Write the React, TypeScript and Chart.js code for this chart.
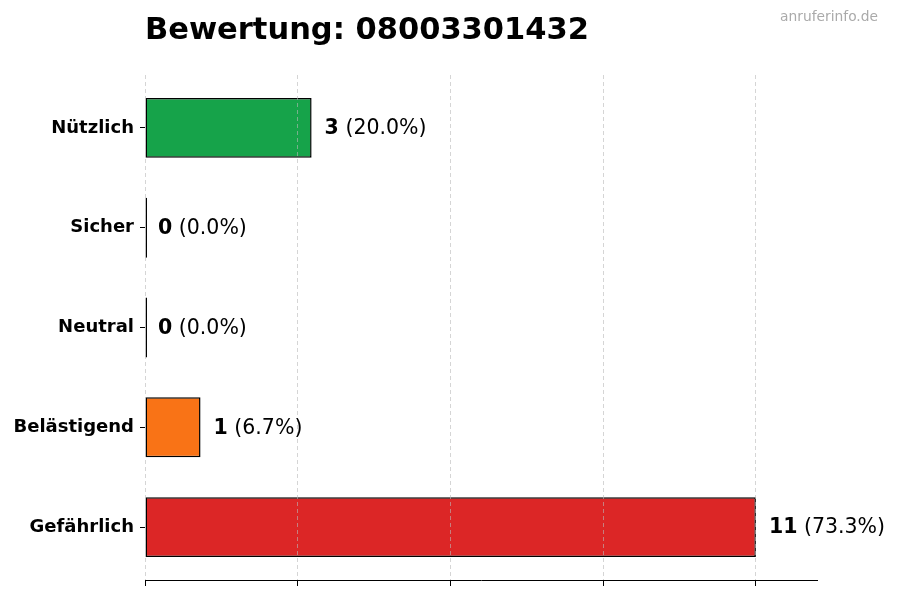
import React, { useEffect, useRef } from 'react';
import Chart from 'chart.js/auto';

const categories = ['Nützlich', 'Sicher', 'Neutral', 'Belästigend', 'Gefährlich'];
const counts = [3, 0, 0, 1, 11];
const percents = ['20.0', '0.0', '0.0', '6.7', '73.3'];
const barColors = ['#16a34a', '#3b82f6', '#9ca3af', '#f97316', '#dc2626'];
const xTicks = [0, 2.75, 5.5, 8.25, 11];
const xMax = 12.1;
// category positions padded like the original plot
const yMin = -0.53;
const yMax = 4.53;

const titleText = 'Bewertung: 08003301432';
const watermark = 'anruferinfo.de';
const FONT = '"DejaVu Sans", sans-serif';

// title, watermark and the "n (x%)" labels next to each bar
const labelsPlugin = {
  id: 'barLabels',
  afterDraw(chart: any) {
    const { ctx, chartArea } = chart;
    ctx.save();
    ctx.textBaseline = 'middle';
    ctx.fillStyle = '#000';
    ctx.textAlign = 'left';
    ctx.font = `bold 30.5px ${FONT}`;
    ctx.fillText(titleText, chartArea.left, 31);

    ctx.fillStyle = '#aaaaaa';
    ctx.textAlign = 'right';
    ctx.font = `13.8px ${FONT}`;
    ctx.fillText(watermark, 878, 17);

    ctx.textAlign = 'left';
    ctx.fillStyle = '#000';
    const meta = chart.getDatasetMeta(0);
    meta.data.forEach((bar: any, i: number) => {
      const x = (counts[i] === 0 ? chart.scales.x.getPixelForValue(0) : bar.x) + 13;
      ctx.font = `bold 20.5px ${FONT}`;
      const v = String(counts[i]);
      ctx.fillText(v, x, bar.y + 1);
      const w = ctx.measureText(v).width;
      ctx.font = `20.5px ${FONT}`;
      ctx.fillText(` (${percents[i]}%)`, x + w, bar.y + 1);
    });
    ctx.restore();
  },
};

export default function App() {
  const canvasRef = useRef<HTMLCanvasElement | null>(null);

  useEffect(() => {
    document.body.style.margin = '0';
    const ctx = canvasRef.current?.getContext('2d');
    if (!ctx) return;
    const chart = new Chart(ctx, {
      type: 'bar',
      data: {
        datasets: [
          {
            data: counts.map((c, i) => ({ x: c, y: i })),
            backgroundColor: barColors,
            borderColor: '#000',
            borderWidth: 1.5,
            borderSkipped: false,
            minBarLength: 2,
            barPercentage: 0.6,
            categoryPercentage: 1,
          },
        ],
      },
      options: {
        indexAxis: 'y',
        animation: false,
        responsive: false,
        maintainAspectRatio: false,
        layout: { padding: { top: 75, right: 83, left: 0, bottom: 0 } },
        plugins: {
          legend: { display: false },
          tooltip: { enabled: false },
          title: { display: false },
        },
        scales: {
          x: {
            type: 'linear',
            min: 0,
            max: xMax,
            afterBuildTicks: (scale: any) => {
              scale.ticks = xTicks.map((v) => ({ value: v }));
            },
            afterFit: (scale: any) => {
              scale.height = 20;
            },
            ticks: { display: false },
            grid: {
              color: 'rgba(185,185,185,0.6)',
              lineWidth: 1,
              tickColor: '#000',
              tickLength: 6,
              tickWidth: 1,
              tickBorderDash: [],
              z: 1,
            },
            border: { display: true, color: '#000', width: 1, dash: [4, 3], z: 2 },
          },
          y: {
            type: 'linear',
            reverse: true,
            min: yMin,
            max: yMax,
            offset: false,
            afterBuildTicks: (scale: any) => {
              scale.ticks = categories.map((_, i) => ({ value: i }));
            },
            afterFit: (scale: any) => {
              scale.width = 145;
            },
            ticks: {
              color: '#000',
              padding: 6,
              font: { family: 'DejaVu Sans', size: 18, weight: 'bold' },
              callback: (v: any) => categories[Number(v)] ?? '',
            },
            grid: {
              offset: false,
              drawOnChartArea: false,
              tickColor: '#000',
              tickLength: 5,
              tickWidth: 1,
            },
            border: { display: false },
          },
        },
      },
      plugins: [labelsPlugin],
    });
    return () => chart.destroy();
  }, []);

  return (
    <div style={{ width: 900, height: 600, background: '#fff' }}>
      <canvas ref={canvasRef} width={900} height={600} style={{ width: 900, height: 600 }} />
    </div>
  );
}
